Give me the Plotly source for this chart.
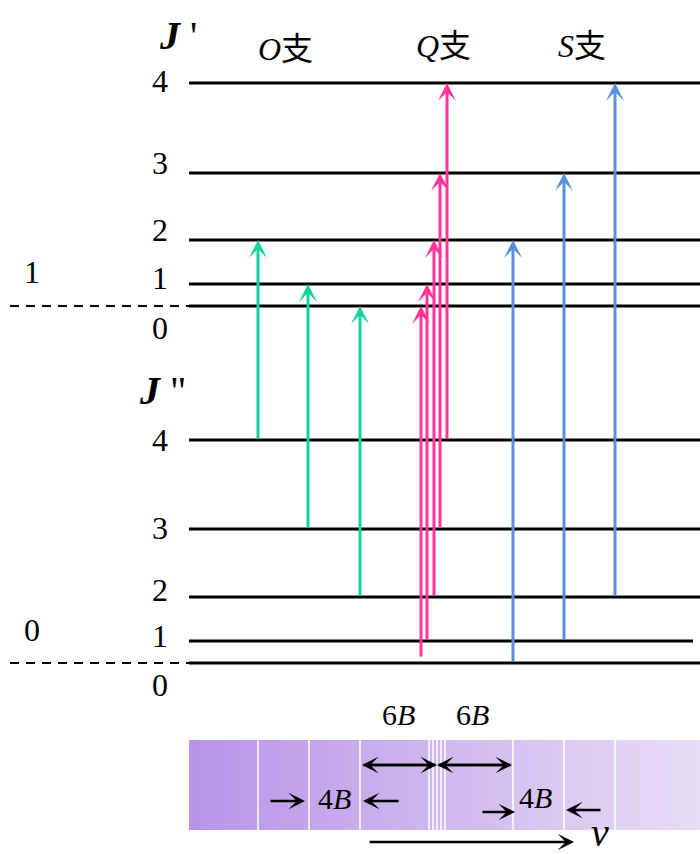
import plotly.graph_objects as go
import numpy as np

# ---- data (diagram units: y grows downward, like the picture) ----
J_values = [0, 1, 2, 3, 4]
upper_level_y = [306, 284, 240, 173, 83]     # J' = 0..4 (v=1)
lower_level_y = [663, 641, 597, 529, 440]    # J'' = 0..4 (v=0)
level_x0 = 189
level_x1 = [700, 700, 700, 700, 700]
lower_level_x1 = [700, 693, 700, 700, 700]

# O branch: J'' -> J'-2
O_x = [258, 308, 360]
O_from = [4, 3, 2]
O_to = [2, 1, 0]
# Q branch: J'' -> J'
Q_x = [421, 427, 434, 440, 447]
Q_from = [0, 1, 2, 3, 4]
Q_to = [0, 1, 2, 3, 4]
Q_tail_offset = [-5, 0, 0, 0, 0]
# S branch: J'' -> J'+2
S_x = [513, 564, 615]
S_from = [0, 1, 2]
S_to = [2, 3, 4]

# spectral lines in the band
spectrum_lines = [258, 309, 360, 429, 433, 437, 441, 445, 513, 564, 615]
band_x = [189, 700]
band_y = [740, 830]

GREEN = "#14d39a"
PINK = "#ff3399"
BLUE = "#5b8fdc"
SERIF = "Liberation Serif, Times New Roman, serif"
W, H = 700, 854

fig = go.Figure()

# spectrum band (gradient) via heatmap
nb = 120
edges = np.linspace(band_x[0], band_x[1], nb + 1)
fig.add_trace(go.Heatmap(
    z=[list(range(nb))], x=edges, y=band_y,
    colorscale=[[0, "#b894e8"], [1, "#e7ddf5"]],
    showscale=False, hoverinfo="skip"))
for sx in spectrum_lines:
    fig.add_trace(go.Scatter(x=[sx, sx], y=band_y, mode="lines",
                             line=dict(color="white", width=1.5),
                             showlegend=False, hoverinfo="skip"))

# energy levels
for j in J_values:
    fig.add_trace(go.Scatter(x=[level_x0, level_x1[j]], y=[upper_level_y[j]] * 2,
                             mode="lines", line=dict(color="black", width=3),
                             showlegend=False, hoverinfo="skip"))
    fig.add_trace(go.Scatter(x=[level_x0, lower_level_x1[j]], y=[lower_level_y[j]] * 2,
                             mode="lines", line=dict(color="black", width=3),
                             showlegend=False, hoverinfo="skip"))
# dashed vibrational ground lines
for yv in [upper_level_y[0], lower_level_y[0]]:
    fig.add_trace(go.Scatter(x=[10, level_x0], y=[yv, yv], mode="lines",
                             line=dict(color="black", width=2, dash="9px,7px"),
                             showlegend=False, hoverinfo="skip"))

ann = []

def arrow(x, y_tail, y_tip, color):
    ann.append(dict(x=x, y=y_tip, ax=x, ay=y_tail, xref="x", yref="y",
                    axref="x", ayref="y", showarrow=True, arrowhead=3,
                    arrowsize=1.0, arrowwidth=3, arrowcolor=color, text="",
                    standoff=0))

for x, a, b in zip(O_x, O_from, O_to):
    arrow(x, lower_level_y[a], upper_level_y[b], GREEN)
for x, a, b, off in zip(Q_x, Q_from, Q_to, Q_tail_offset):
    arrow(x, lower_level_y[a] + off, upper_level_y[b], PINK)
for x, a, b in zip(S_x, S_from, S_to):
    arrow(x, lower_level_y[a], upper_level_y[b], BLUE)

def text(x, y, t, size=32, font=SERIF, **kw):
    ann.append(dict(x=x, y=y, xref="x", yref="y", text=t, showarrow=False,
                    font=dict(family=font, size=size, color="black"), **kw))

# J labels
upper_label_y = [328, 278, 230, 163, 81]
lower_label_y = [685, 636, 590, 528, 440]
for j in J_values:
    text(160, upper_label_y[j], str(j))
    text(160, lower_label_y[j], str(j))
text(32, 272, "1")
text(32, 630, "0")
text(178, 35, "<b><i>J</i></b> '", size=40)
text(162, 390, "<b><i>J</i></b> \"", size=40)

cj = "<span style='font-family:Noto Sans CJK SC'>支</span>"
text(285, 46, "<i>O</i>" + cj, size=32)
text(443, 43, "<i>Q</i>" + cj, size=32)
text(582, 43, "<i>S</i>" + cj, size=32)

text(398, 714, "6<i>B</i>", size=30)
text(472, 714, "6<i>B</i>", size=30)
text(334, 798, "4<i>B</i>", size=30)
text(535, 797, "4<i>B</i>", size=30)
text(600, 832, "<i>ν</i>", size=40)

def black_arrow(x0, x1, y):
    ann.append(dict(x=x1, y=y, ax=x0, ay=y, xref="x", yref="y", axref="x",
                    ayref="y", showarrow=True, arrowhead=3, arrowsize=1.1,
                    arrowwidth=2.5, arrowcolor="black", text="", standoff=0))

# 6B double arrows
black_arrow(437, 362, 765)
black_arrow(362, 437, 765)
black_arrow(437, 512, 765)
black_arrow(512, 437, 765)
# 4B arrows
black_arrow(269, 305, 801)
black_arrow(400, 363, 801)
black_arrow(481, 515, 812)
black_arrow(602, 566, 810)
# nu arrow
black_arrow(368, 574, 842)

fig.update_layout(
    width=W, height=H,
    margin=dict(l=0, r=0, t=0, b=0),
    paper_bgcolor="white", plot_bgcolor="white",
    xaxis=dict(range=[0, W], visible=False, fixedrange=True),
    yaxis=dict(range=[H, 0], visible=False, fixedrange=True),
    annotations=ann, showlegend=False)

fig.write_html(
    "out.html",
    config={"displayModeBar": False},
    post_script="document.body.style.margin='0';document.body.style.overflow='hidden';")
